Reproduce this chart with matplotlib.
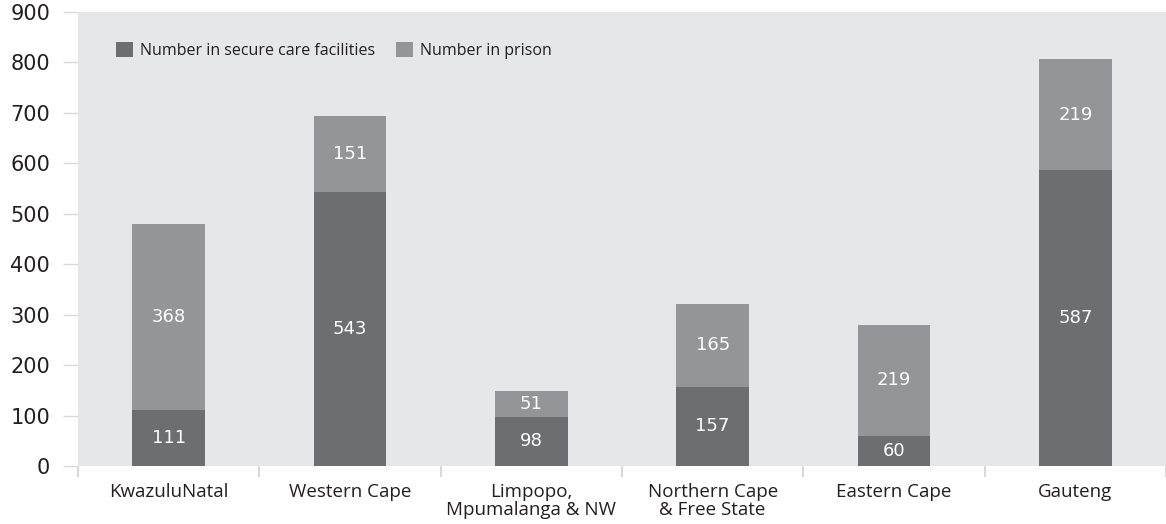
import matplotlib
matplotlib.use("Agg")
import matplotlib.pyplot as plt
from matplotlib.patches import Patch
import numpy as np

plt.rcParams['font.family'] = ['Open Sans', 'DejaVu Sans']

categories = ["KwazuluNatal", "Western Cape", "Limpopo,\nMpumalanga & NW",
              "Northern Cape\n& Free State", "Eastern Cape", "Gauteng"]
secure = [111, 543, 98, 157, 60, 587]
prison = [368, 151, 51, 165, 219, 219]
yticks = [0, 100, 200, 300, 400, 500, 600, 700, 800, 900]
series_names = ["Number in secure care facilities", "Number in prison"]

dark = "#6d6e71"
light = "#939598"
bg = "#e6e7e8"
tickc = "#d9d9d9"
txt = "#231f20"

W, H = 1166, 524
fig = plt.figure(figsize=(W / 100, H / 100), dpi=100)
ax = fig.add_axes([78 / W, (H - 466) / H, (1166 - 78) / W, 454 / H])
ax.set_facecolor(bg)

x = np.arange(len(categories))
bw = 0.4
ax.bar(x, secure, bw, color=dark, zorder=2)
ax.bar(x, prison, bw, bottom=secure, color=light, zorder=2)

numfont = ['DejaVu Sans']
for i in range(len(categories)):
    ax.text(x[i], secure[i] / 2, str(secure[i]), ha='center', va='center',
            color='white', fontsize=13, family=numfont, zorder=3)
    ax.text(x[i], secure[i] + prison[i] / 2, str(prison[i]), ha='center',
            va='center', color='white', fontsize=13, family=numfont, zorder=3)

ax.set_xlim(-0.5, len(categories) - 0.5)
ax.set_ylim(0, 900)
ax.set_yticks(yticks)
ax.set_yticklabels([str(v) for v in yticks], fontsize=15, color=txt, family=numfont)
ax.tick_params(axis='y', length=11, width=1, color=tickc, pad=9)

ax.set_xticks(x)
ax.set_xticklabels(categories, fontsize=13.5, color=txt, linespacing=1.02, va='top')
ax.tick_params(axis='x', which='major', length=0, pad=12)
ax.set_xticks(np.arange(-0.5, len(categories), 1.0), minor=True)
ax.tick_params(axis='x', which='minor', length=8, width=1.5, color=tickc)

for s in ax.spines.values():
    s.set_visible(False)

handles = [Patch(facecolor=dark), Patch(facecolor=light)]
ax.legend(handles, series_names, loc='center left',
          bbox_to_anchor=((116 - 78) / 1088, (466 - 50.5) / 454),
          borderaxespad=0, borderpad=0,
          ncol=2, frameon=False, fontsize=11.5, handlelength=1.05, handleheight=1.05,
          handletextpad=0.45, columnspacing=1.3, labelcolor=txt)

fig.savefig("out.png", dpi=100)
